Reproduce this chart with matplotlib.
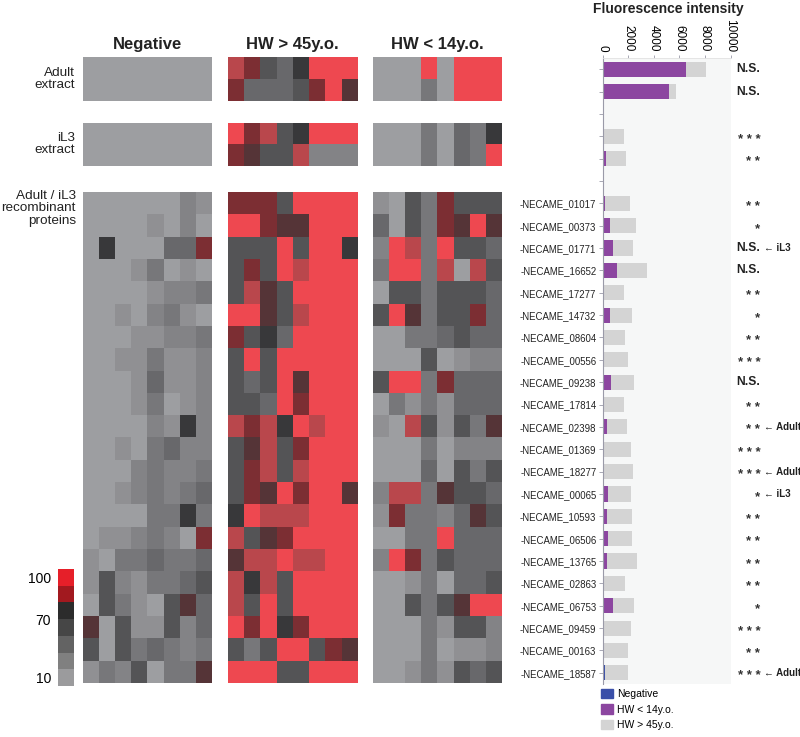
import numpy as np
import matplotlib.pyplot as plt
import matplotlib.transforms as mtransforms
from matplotlib.colors import ListedColormap
from matplotlib.patches import Patch

plt.rcParams['font.family'] = ['Liberation Sans', 'DejaVu Sans']

groups = ['Negative', 'HW > 45y.o.', 'HW < 14y.o.']

# heat map level per serum (0 = 10 ... 10 = 100), 8 sera per group
neg_adult = [[0, 0, 0, 0, 0, 0, 0, 0],
             [0, 0, 0, 0, 0, 0, 0, 0]]
hw45_adult = [[9, 8, 5, 4, 6, 10, 10, 10],
              [8, 4, 4, 4, 5, 8, 10, 7]]
hw14_adult = [[0, 0, 0, 10, 0, 10, 10, 10],
              [0, 0, 0, 3, 0, 10, 10, 10]]

neg_il3 = [[0, 0, 0, 0, 0, 0, 0, 0],
           [0, 0, 0, 0, 0, 0, 0, 0]]
hw45_il3 = [[10, 8, 9, 5, 6, 10, 10, 10],
            [8, 7, 5, 5, 9, 2, 2, 2]]
hw14_il3 = [[0, 0, 0, 3, 0, 4, 3, 6],
            [0, 0, 0, 3, 0, 4, 3, 10]]

proteins = ['NECAME_01017', 'NECAME_00373', 'NECAME_01771', 'NECAME_16652',
            'NECAME_17277', 'NECAME_14732', 'NECAME_08604', 'NECAME_00556',
            'NECAME_09238', 'NECAME_17814', 'NECAME_02398', 'NECAME_01369',
            'NECAME_18277', 'NECAME_00065', 'NECAME_10593', 'NECAME_06506',
            'NECAME_13765', 'NECAME_02863', 'NECAME_06753', 'NECAME_09459',
            'NECAME_00163', 'NECAME_18587']

neg_rec = [[0, 0, 0, 0, 0, 0, 2, 1],
           [0, 0, 0, 0, 1, 0, 2, 0],
           [0, 6, 0, 0, 0, 4, 4, 8],
           [0, 0, 0, 1, 3, 0, 1, 0],
           [0, 0, 0, 0, 1, 2, 2, 3],
           [0, 0, 1, 0, 2, 3, 1, 0],
           [0, 0, 0, 1, 1, 2, 2, 3],
           [0, 0, 1, 1, 3, 1, 1, 2],
           [0, 0, 0, 1, 4, 1, 1, 2],
           [0, 0, 0, 1, 3, 0, 1, 2],
           [0, 0, 0, 0, 2, 1, 6, 2],
           [0, 0, 1, 0, 3, 4, 2, 2],
           [0, 0, 0, 2, 3, 2, 2, 3],
           [0, 0, 1, 2, 3, 2, 3, 4],
           [0, 0, 0, 0, 3, 3, 6, 3],
           [0, 1, 1, 2, 3, 2, 0, 8],
           [1, 0, 3, 3, 4, 3, 3, 4],
           [1, 5, 2, 1, 3, 3, 4, 5],
           [0, 5, 3, 1, 0, 5, 7, 4],
           [7, 0, 5, 1, 1, 5, 2, 4],
           [5, 0, 5, 3, 4, 3, 2, 3],
           [1, 3, 2, 5, 0, 3, 3, 7]]

hw45_rec = [[8, 8, 8, 5, 10, 10, 10, 10],
            [10, 10, 8, 7, 7, 10, 10, 10],
            [5, 5, 5, 10, 5, 10, 10, 6],
            [5, 8, 5, 10, 9, 10, 10, 10],
            [5, 9, 7, 5, 10, 10, 10, 10],
            [10, 10, 7, 5, 9, 10, 10, 10],
            [8, 5, 6, 4, 10, 10, 10, 10],
            [5, 10, 5, 10, 10, 10, 10, 10],
            [5, 4, 5, 10, 7, 10, 10, 10],
            [5, 5, 4, 10, 8, 10, 10, 10],
            [9, 8, 9, 6, 10, 9, 10, 10],
            [5, 7, 9, 5, 8, 10, 10, 10],
            [5, 8, 9, 5, 9, 10, 10, 10],
            [5, 8, 7, 10, 8, 10, 10, 7],
            [6, 10, 9, 9, 9, 10, 10, 10],
            [9, 5, 7, 8, 10, 10, 10, 10],
            [7, 9, 9, 10, 9, 9, 10, 10],
            [9, 6, 9, 5, 10, 10, 10, 10],
            [9, 5, 10, 5, 10, 10, 10, 10],
            [10, 8, 10, 6, 8, 10, 10, 10],
            [5, 3, 5, 10, 10, 5, 8, 7],
            [10, 10, 10, 5, 5, 10, 10, 10]]

hw14_rec = [[1, 0, 5, 3, 8, 5, 5, 5],
            [4, 0, 5, 3, 8, 7, 10, 7],
            [2, 10, 9, 3, 10, 5, 5, 4],
            [3, 10, 10, 3, 9, 0, 9, 5],
            [0, 5, 5, 3, 5, 5, 5, 4],
            [5, 10, 7, 3, 5, 5, 8, 4],
            [0, 0, 3, 3, 4, 5, 4, 4],
            [0, 0, 0, 5, 0, 1, 2, 2],
            [5, 10, 10, 3, 8, 4, 4, 4],
            [0, 3, 1, 3, 1, 4, 4, 4],
            [1, 0, 9, 5, 1, 5, 3, 7],
            [0, 0, 0, 3, 0, 2, 2, 2],
            [0, 0, 0, 4, 0, 5, 3, 5],
            [2, 9, 9, 3, 7, 5, 5, 4],
            [1, 8, 3, 3, 2, 4, 7, 5],
            [0, 0, 3, 3, 10, 4, 4, 4],
            [2, 10, 8, 3, 5, 4, 4, 4],
            [0, 0, 1, 3, 0, 4, 4, 5],
            [0, 0, 5, 3, 5, 7, 10, 10],
            [0, 0, 0, 3, 1, 5, 5, 2],
            [0, 0, 0, 3, 0, 1, 1, 2],
            [0, 0, 1, 3, 1, 5, 4, 5]]

# fluorescence intensity (adult x2, iL3 x2, then the 22 proteins)
fl_hw45 = [8100, 5750, 1700, 1800,
           2100, 2600, 2350, 3450, 1650, 2300, 1770, 1980, 2480, 1640, 1930,
           2190, 2400, 2220, 2270, 2320, 2660, 1770, 2480, 2190, 1980, 1980]
fl_hw14 = [6550, 5200, 60, 260,
           180, 560, 780, 1120, 100, 570, 40, 0, 680, 0, 360,
           0, 40, 390, 340, 400, 300, 60, 810, 60, 40, 60]
fl_neg = [30, 30, 90, 40,
          30, 30, 80, 30, 30, 30, 90, 20, 30, 20, 100,
          20, 90, 40, 120, 60, 40, 110, 40, 100, 90, 160]

signif = ['N.S.', 'N.S.', '* * *', '* *',
          '* *', '*', 'N.S.', 'N.S.', '* *', '*', '* *', '* * *', 'N.S.', '* *', '* *',
          '* * *', '* * *', '*', '* *', '* *', '* *', '* *', '*', '* * *', '* *', '* * *']
notes = ['', '', '', '',
         '', '', 'iL3', '', '', '', '', '', '', '', 'Adult',
         '', 'Adult', 'iL3', '', '', '', '', '', '', '', 'Adult']

level_colors = ['#9d9ea1', '#909093', '#838386', '#77777a', '#68686b', '#545456',
                '#38383a', '#553437', '#7c2e33', '#b9474c', '#ee4850']
heat_cmap = ListedColormap(level_colors)
bar_colors = ['#e61f29', '#a2191f', '#2c2c2c', '#464646', '#636363', '#808080', '#9b9b9d']

W, H = 800, 737
fig = plt.figure(figsize=(8, 7.37), dpi=100)


def box(x0, y0, x1, y1):
    return fig.add_axes([x0 / W, 1 - y1 / H, (x1 - x0) / W, (y1 - y0) / H])


cols_px = [(83, 212), (228, 357), (373, 502)]
rows_px = [(57.3, 100.7), (122.7, 166), (192.3, 683)]
blocks = [[neg_adult, hw45_adult, hw14_adult],
          [neg_il3, hw45_il3, hw14_il3],
          [neg_rec, hw45_rec, hw14_rec]]

for (y0, y1), row_blocks in zip(rows_px, blocks):
    for (x0, x1), data in zip(cols_px, row_blocks):
        ax = box(x0, y0, x1, y1)
        ax.imshow(np.array(data), cmap=heat_cmap, vmin=-0.5, vmax=10.5,
                  aspect='auto', interpolation='nearest')
        ax.set_axis_off()

for (x0, x1), g in zip(cols_px, groups):
    fig.text((x0 + x1) / 2 / W, 1 - 44 / H, g, ha='center', va='center',
             fontsize=12, fontweight='bold', color='#222222')

fig.text(75 / W, 1 - 79 / H, 'Adult\nextract', ha='right', va='center',
         fontsize=9.7, linespacing=1.05, color='#222222')
fig.text(75 / W, 1 - 144 / H, 'iL3\nextract', ha='right', va='center',
         fontsize=9.7, linespacing=1.05, color='#222222')
fig.text(76 / W, 1 - 190 / H, 'Adult / iL3\nrecombinant\nproteins', ha='right',
         va='top', fontsize=9.7, linespacing=1.05, color='#222222')

# colour key
cax = box(58, 569.3, 74, 686)
cax.imshow(np.arange(len(bar_colors)).reshape(-1, 1), cmap=ListedColormap(bar_colors),
           aspect='auto', interpolation='nearest')
cax.set_xticks([])
cax.set_yticks([0, 2.5, 6])
cax.set_yticklabels(['100', '70', '10'], fontsize=10)
cax.tick_params(axis='y', length=0, pad=5)
for s in cax.spines.values():
    s.set_visible(False)

# bar chart
pos = np.array([0, 1, 3, 4] + list(range(6, 28)))
bx = box(602.7, 58, 730.5, 684)
bx.set_facecolor('#f6f7f7')
bx.barh(pos, fl_hw45, height=0.68, color='#d4d4d4')
bx.barh(pos, fl_hw14, height=0.68, color='#8c46a0')
bx.barh(pos, fl_neg, height=0.68, color='#3a4fa8')
bx.set_xlim(0, 10000)
bx.set_ylim(27.5, -0.5)
bx.xaxis.tick_top()
bx.set_xticks([0, 2000, 4000, 6000, 8000, 10000])
bx.set_xticklabels(['0', '2000', '4000', '6000', '8000', '10000'], rotation=-90, fontsize=8.5)
bx.tick_params(axis='x', length=2.5, width=0.6, color='#9a9aa8', pad=2)
bx.set_yticks(range(28))
ylabels = [''] * 28
for p, name in zip(pos[4:], proteins):
    ylabels[p] = '-' + name
bx.set_yticklabels(ylabels, fontsize=6.9, color='#222222')
bx.tick_params(axis='y', length=3, width=0.6, color='#9a9aa8', pad=1.5)
for s in ['right', 'bottom']:
    bx.spines[s].set_visible(False)
bx.spines['top'].set_color('#e2e2e2')
bx.spines['top'].set_linewidth(0.6)
bx.spines['left'].set_color('#9a9aa8')
bx.spines['left'].set_linewidth(0.8)

fig.text(668 / W, 1 - 9 / H, 'Fluorescence intensity', ha='center', va='center',
         fontsize=10, fontweight='bold', color='#222222')

blend = mtransforms.blended_transform_factory(bx.transAxes, bx.transData)
star_tr = mtransforms.offset_copy(blend, fig=fig, x=0, y=-2.5, units='points')
for p, s, n in zip(pos, signif, notes):
    if s.startswith('N'):
        bx.text(1.232, p, s, transform=blend, ha='right', va='center',
                fontsize=8.7, fontweight='bold', color='#222222', clip_on=False)
    else:
        bx.text(1.232, p, s, transform=star_tr, ha='right', va='center',
                fontsize=9.5, fontweight='bold', color='#333333', clip_on=False)
    if n:
        bx.text(1.262, p, '\u2190 ' + n, transform=blend, ha='left', va='center',
                fontsize=7, fontweight='bold', color='#222222', clip_on=False)

fig.legend(handles=[Patch(color='#3a4fa8'), Patch(color='#8c46a0'), Patch(color='#d4d4d4')],
           labels=['Negative', 'HW < 14y.o.', 'HW > 45y.o.'],
           loc='upper left', bbox_to_anchor=(601 / W, 1 - 689 / H), frameon=False,
           fontsize=7.5, handlelength=1.15, handleheight=1.0, handletextpad=0.4,
           labelspacing=0.5, borderpad=0, borderaxespad=0)

fig.savefig('out.png', dpi=100)
